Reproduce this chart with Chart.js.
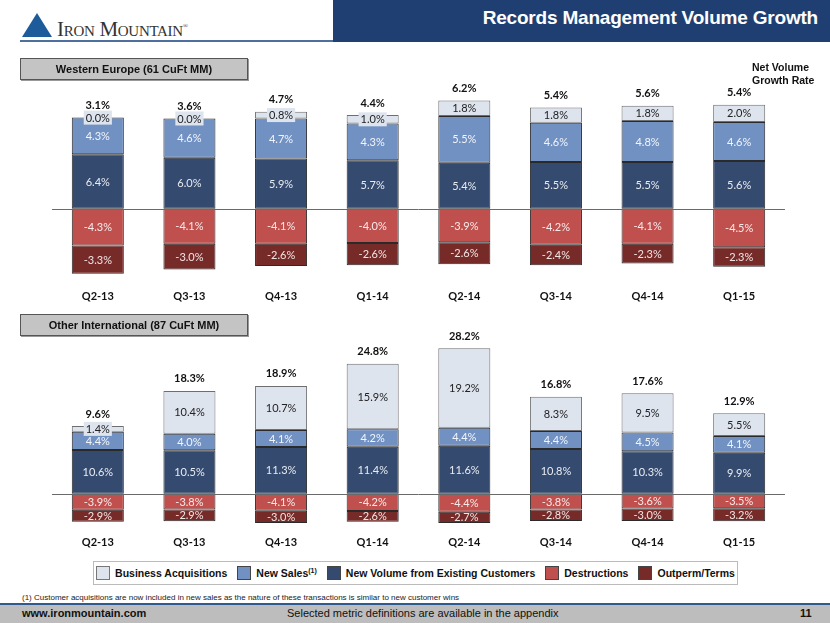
<!DOCTYPE html>
<html>
<head>
<meta charset="utf-8">
<script src="https://cdn.jsdelivr.net/npm/chart.js@4.4.0/dist/chart.umd.min.js"></script>
<style>
  html, body { margin: 0; padding: 0; background: #fff; }
  body { width: 830px; height: 623px; position: relative; overflow: hidden; font-family: "Liberation Sans", Arial, sans-serif; }
  .abs { position: absolute; }
  #hdr-bar { left: 333px; top: 0; width: 497px; height: 42px; background: #1f3f73; }
  #hdr-title { right: 12px; top: 7px; color: #fff; font-weight: bold; font-size: 19px; letter-spacing: -0.2px; }
  #hdr-line { left: 20px; top: 40px; width: 313px; height: 2px; background: #4f6f9f; }
  #logo-tri { left: 22px; top: 13px; width: 0; height: 0; border-left: 15px solid transparent; border-right: 15px solid transparent; border-bottom: 24px solid #1d5b9b; }
  #logo-txt { left: 57px; top: 17px; font-family: "Liberation Serif", "DejaVu Serif", serif; font-size: 21px; color: #333; letter-spacing: -0.3px; }
  #logo-txt small { font-size: 15px; }
  #logo-txt sup { font-size: 7px; }
  .boxlbl { left: 20px; width: 226px; height: 20px; line-height: 20px; background: #c4c4c4; border: 1px solid #555; text-align: center; font-weight: bold; font-size: 11px; color: #111; box-shadow: 1px 1px 0 #999; }
  #nvgr { left: 752px; top: 61px; font-weight: bold; font-size: 10.5px; line-height: 13px; color: #111; }
  canvas { position: absolute; left: 0; }
  #legend { left: 93px; top: 561px; width: 643px; height: 22px; border: 1px solid #bbb; display: flex; align-items: center; justify-content: center; gap: 10px; font-weight: bold; font-size: 10.5px; color: #111; }
  #legend span.sw { display: inline-block; width: 12px; height: 12px; border: 1px solid #444; vertical-align: -3px; margin-right: 5px; }
  #legend sup { font-size: 7px; }
  #foot-note { left: 22px; top: 593px; font-size: 8px; color: #222; }
  #foot-line { left: 0; top: 603px; width: 830px; height: 2px; background: #2f5a8f; }
  #foot-bar { left: 0; top: 605px; width: 830px; height: 18px; background: #bdbdbd; font-size: 11px; color: #111; }
  #foot-bar .l { position: absolute; left: 22px; top: 2px; font-weight: bold; }
  #foot-bar .c { position: absolute; left: 287px; top: 2px; }
  #foot-bar .r { position: absolute; left: 800px; top: 2px; font-weight: bold; }
</style>
</head>
<body>
<div class="abs" id="hdr-bar"><div class="abs" id="hdr-title">Records Management Volume Growth</div></div>
<div class="abs" id="hdr-line"></div>
<div class="abs" id="logo-tri"></div>
<div class="abs" id="logo-txt">I<small>RON</small> M<small>OUNTAIN</small><sup>®</sup></div>

<canvas id="chart-we" width="830" height="238" style="top:80px"></canvas>
<canvas id="chart-oi" width="830" height="233" style="top:327px"></canvas>

<div class="abs boxlbl" style="top:58px">Western Europe (61 CuFt MM)</div>
<div class="abs boxlbl" style="top:314px">Other International (87 CuFt MM)</div>
<div class="abs" id="nvgr">Net Volume<br>Growth Rate</div>

<div class="abs" id="legend">
  <div><span class="sw" style="background:#dde4ee;border-color:#777"></span>Business Acquisitions</div>
  <div><span class="sw" style="background:#7191c3"></span>New Sales<sup>(1)</sup></div>
  <div><span class="sw" style="background:#344a6e"></span>New Volume from Existing Customers</div>
  <div><span class="sw" style="background:#c0504d"></span>Destructions</div>
  <div><span class="sw" style="background:#772b29"></span>Outperm/Terms</div>
</div>
<div class="abs" id="foot-note">(1) Customer acquisitions are now included in new sales as the nature of these transactions is similar to new customer wins</div>
<div class="abs" id="foot-line"></div>
<div class="abs" id="foot-bar"><span class="l">www.ironmountain.com</span><span class="c">Selected metric definitions are available in the appendix</span><span class="r">11</span></div>

<script>
(function () {
  'use strict';

  var quarters = ['Q2-13', 'Q3-13', 'Q4-13', 'Q1-14', 'Q2-14', 'Q3-14', 'Q4-14', 'Q1-15'];

  // Western Europe
  var weAcquisitions = [0.0, 0.0, 0.8, 1.0, 1.8, 1.8, 1.8, 2.0];
  var weNewSales = [4.3, 4.6, 4.7, 4.3, 5.5, 4.6, 4.8, 4.6];
  var weExisting = [6.4, 6.0, 5.9, 5.7, 5.4, 5.5, 5.5, 5.6];
  var weDestructions = [-4.3, -4.1, -4.1, -4.0, -3.9, -4.2, -4.1, -4.5];
  var weOutperm = [-3.3, -3.0, -2.6, -2.6, -2.6, -2.4, -2.3, -2.3];
  var weNetGrowth = [3.1, 3.6, 4.7, 4.4, 6.2, 5.4, 5.6, 5.4];

  // Other International
  var oiAcquisitions = [1.4, 10.4, 10.7, 15.9, 19.2, 8.3, 9.5, 5.5];
  var oiNewSales = [4.4, 4.0, 4.1, 4.2, 4.4, 4.4, 4.5, 4.1];
  var oiExisting = [10.6, 10.5, 11.3, 11.4, 11.6, 10.8, 10.3, 9.9];
  var oiDestructions = [-3.9, -3.8, -4.1, -4.2, -4.4, -3.8, -3.6, -3.5];
  var oiOutperm = [-2.9, -2.9, -3.0, -2.6, -2.7, -2.8, -3.0, -3.2];
  var oiNetGrowth = [9.6, 18.3, 18.9, 24.8, 28.2, 16.8, 17.6, 12.9];

  var colors = {
    acq: '#dde4ee',
    sales: '#7191c3',
    existing: '#344a6e',
    destr: '#c0504d',
    outperm: '#772b29',
  };

  var labelFont = '11px Lato, "Open Sans", sans-serif';

  var segLabels = {
    id: 'segLabels',
    afterDatasetsDraw: function (chart) {
      var ctx = chart.ctx;
      var area = chart.chartArea;
      var y0 = chart.scales.y.getPixelForValue(0);
      ctx.save();
      ctx.strokeStyle = '#6a6a6a';
      ctx.lineWidth = 1;
      ctx.beginPath();
      ctx.moveTo(area.left, Math.round(y0) + 0.5);
      ctx.lineTo(area.right, Math.round(y0) + 0.5);
      ctx.stroke();

      ctx.font = labelFont;
      ctx.textAlign = 'center';
      ctx.textBaseline = 'middle';
      chart.data.datasets.forEach(function (ds, di) {
        var meta = chart.getDatasetMeta(di);
        meta.data.forEach(function (bar, i) {
          var v = ds.data[i];
          if (v === null || v === undefined) return;
          var txt = v.toFixed(1) + '%';
          var cy = (bar.y + bar.base) / 2;
          if (ds.labelBox && Math.abs(bar.base - bar.y) < 14) {
            var w = ctx.measureText(txt).width + 4;
            ctx.fillStyle = ds.backgroundColor;
            ctx.fillRect(bar.x - w / 2, cy - 7, w, 14);
          }
          ctx.fillStyle = ds.labelColor;
          ctx.fillText(txt, bar.x, cy + 0.5);
        });
      });

      var net = chart.options.netGrowth;
      var topMeta = chart.getDatasetMeta(2);
      ctx.font = 'bold 11px Lato, "Open Sans", sans-serif';
      ctx.fillStyle = '#111';
      topMeta.data.forEach(function (bar, i) {
        ctx.fillText(net[i].toFixed(1) + '%', bar.x, Math.min(bar.y, bar.base) - 12);
      });
      ctx.restore();
    },
  };

  function makeChart(id, series, net, yMin, yMax, padTop, padBottom, tickPad) {
    var el = document.getElementById(id);
    var sets = [
      { label: 'New Volume from Existing Customers', data: series[0], backgroundColor: colors.existing, borderColor: '#2a2a2a', labelColor: '#e8ecf3' },
      { label: 'New Sales', data: series[1], backgroundColor: colors.sales, borderColor: '#2a2a2a', labelColor: '#f2f5fa' },
      { label: 'Business Acquisitions', data: series[2], backgroundColor: colors.acq, borderColor: '#6e6e6e', labelColor: '#222', labelBox: true },
      { label: 'Destructions', data: series[3], backgroundColor: colors.destr, borderColor: '#2a2a2a', labelColor: '#f7eaea' },
      { label: 'Outperm/Terms', data: series[4], backgroundColor: colors.outperm, borderColor: '#2a2a2a', labelColor: '#f1e4e4' },
    ];
    sets.forEach(function (s) {
      s.borderWidth = 1;
      s.borderSkipped = false;
      s.barPercentage = 0.568;
      s.categoryPercentage = 1;
    });

    return new Chart(el, {
      type: 'bar',
      data: { labels: quarters, datasets: sets },
      options: {
        responsive: false,
        animation: false,
        netGrowth: net,
        layout: { padding: { left: 52, right: 45, top: padTop, bottom: padBottom } },
        plugins: { legend: { display: false }, tooltip: { enabled: false } },
        scales: {
          x: {
            stacked: true,
            grid: { display: false, drawTicks: false, tickLength: 0 },
            border: { display: false },
            ticks: { padding: tickPad, color: '#111', font: { family: 'Lato, "Open Sans", sans-serif', size: 11, weight: 'bold' } },
          },
          y: {
            stacked: true,
            display: false,
            min: yMin,
            max: yMax,
          },
        },
      },
      plugins: [segLabels],
    });
  }

  makeChart('chart-we', [weExisting, weNewSales, weAcquisitions, weDestructions, weOutperm], weNetGrowth, -8.2, 13, 18, 4, 11);
  makeChart('chart-oi', [oiExisting, oiNewSales, oiAcquisitions, oiDestructions, oiOutperm], oiNetGrowth, -8.5, 36.5, 16, 4, 7);
})();
</script>
</body>
</html>
